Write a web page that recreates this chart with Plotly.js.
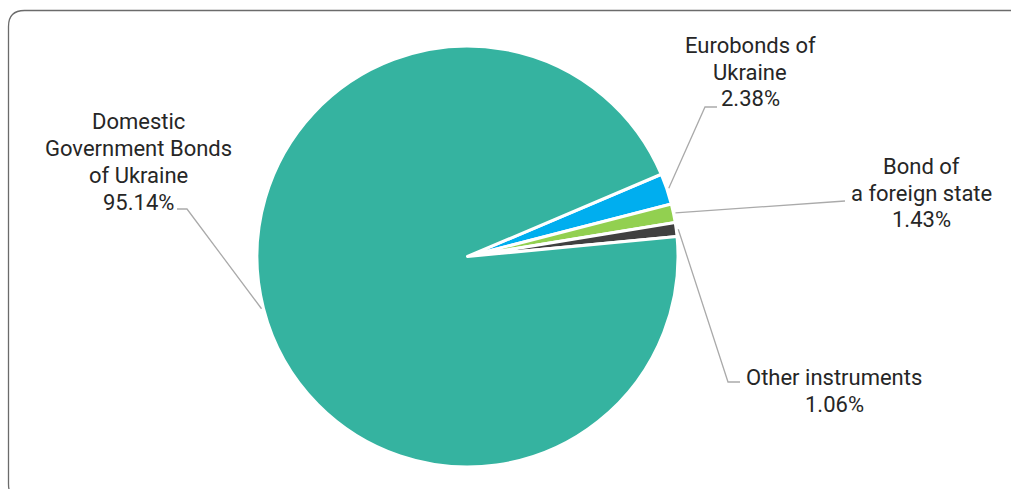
<!DOCTYPE html>
<html>
<head>
<meta charset="utf-8">
<script src="https://cdn.plot.ly/plotly-3.0.1.min.js"></script>
<style>html,body{margin:0;padding:0;background:#fff;}#chart{width:1011px;height:489px;}</style>
</head>
<body>
<div id="chart"></div>
<script>
// Data
const categories = ["Eurobonds of Ukraine", "Bond of a foreign state", "Other instruments", "Domestic Government Bonds of Ukraine"];
const shares = [2.38, 1.43, 1.06, 95.14];
const labelLines = [["Eurobonds of", "Ukraine"], ["Bond of", "a foreign state"], ["Other instruments"], ["Domestic", "Government Bonds", "of Ukraine"]];
const colors = ["#00AEEF", "#92D050", "#404040", "#35B3A0"];

// Layout geometry (pixels)
const W = 1011, H = 489;
const cx = 467.5, cy = 256.5, R = 210.5;
const rotation = 67;
const lineGap = 27;
const px = x => x / W;
const py = y => 1 - y / H;

// label placements: [text center x, text center y, elbow x, elbow y, end x, end y]
const placements = [
  [750, 72, 705, 107, 717, 107],
  [921, 193, 845, 201, 845, 201],
  [834, 391, 728, 382, 740, 382],
  [138, 162, 187, 209, 177, 209]
];

const total = shares.reduce((a, b) => a + b, 0);
let acc = 0;
const shapes = [];
const annotations = [];
shares.forEach((v, i) => {
  const mid = (rotation + (acc + v / 2) / total * 360) * Math.PI / 180;
  acc += v;
  const rr = R + 2;
  const ax = cx + rr * Math.sin(mid), ay = cy - rr * Math.cos(mid);
  const p = placements[i];
  shapes.push({
    type: 'path', xref: 'paper', yref: 'paper',
    path: `M ${px(ax)},${py(ay)} L ${px(p[2])},${py(p[3])} L ${px(p[4])},${py(p[5])}`,
    line: {color: '#AAAAAA', width: 1.3}
  });
  const lines = labelLines[i].concat([v.toFixed(2) + '%']);
  const n = lines.length;
  lines.forEach((t, k) => {
    annotations.push({
      xref: 'paper', yref: 'paper', x: px(p[0]), y: py(p[1] + (k - (n - 1) / 2) * lineGap),
      xanchor: 'center', yanchor: 'middle', align: 'center', showarrow: false,
      text: t,
      font: {family: 'Roboto, sans-serif', size: 22, color: '#262626'}
    });
  });
});

// rounded frame
const x0 = px(8.5), yT = py(10.5), rx = 16 / W, ry = 16 / H, yB = py(500);
shapes.push({
  type: 'path', xref: 'paper', yref: 'paper',
  path: `M ${x0 + rx},${yB} Q ${x0},${yB} ${x0},${yB + ry} L ${x0},${yT - ry} Q ${x0},${yT} ${x0 + rx},${yT} L 1.05,${yT}`,
  line: {color: '#6B6B6B', width: 1.3}
});

const data = [{
  type: 'pie',
  labels: categories,
  values: shares,
  sort: false,
  direction: 'clockwise',
  rotation: rotation,
  textinfo: 'none',
  hoverinfo: 'label+percent',
  marker: {colors: colors, line: {color: '#FFFFFF', width: 3}},
  domain: {x: [(cx - R) / W, (cx + R) / W], y: [py(cy + R), py(cy - R)]},
  showlegend: false
}];

const layout = {
  width: W, height: H,
  margin: {l: 0, r: 0, t: 0, b: 0},
  paper_bgcolor: '#FFFFFF',
  showlegend: false,
  shapes: shapes,
  annotations: annotations,
  font: {family: 'Roboto, sans-serif'}
};

Plotly.newPlot('chart', data, layout, {displayModeBar: false, staticPlot: true});
</script>
</body>
</html>
